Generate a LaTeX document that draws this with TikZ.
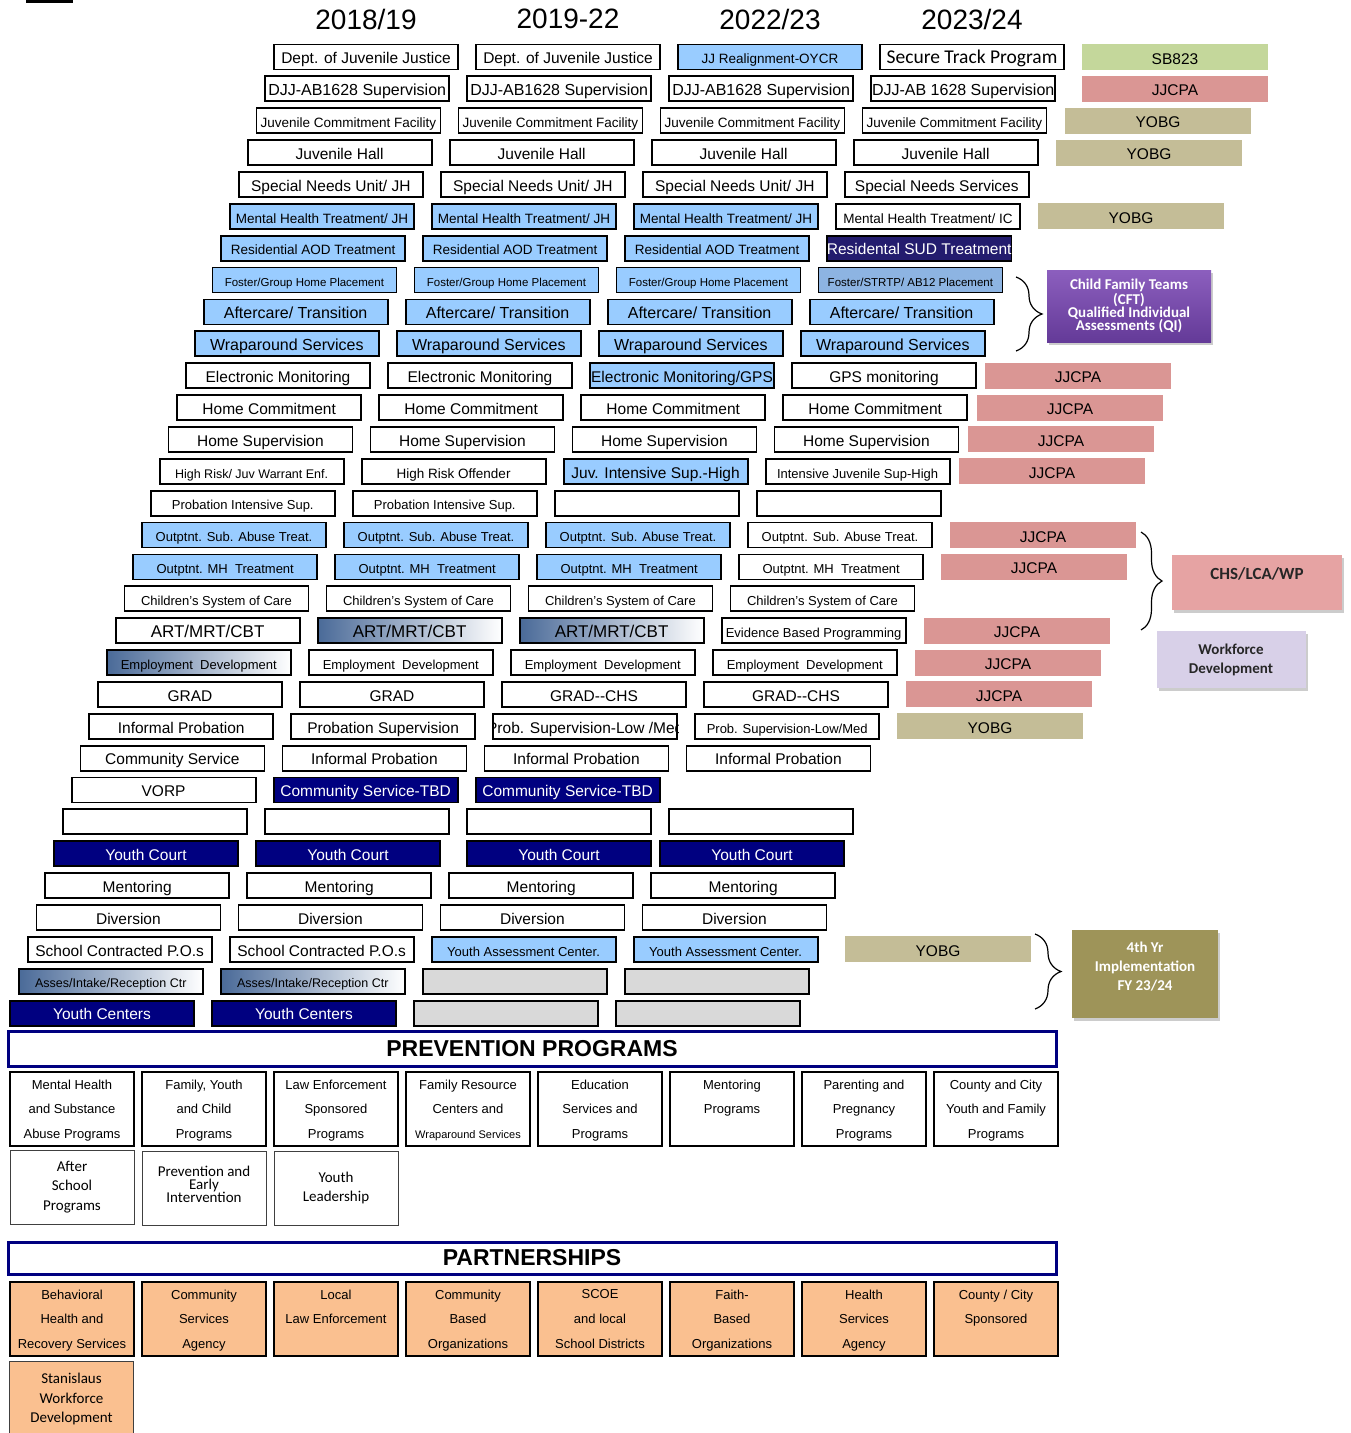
\documentclass[tikz,border=0pt]{standalone}
\usepackage{fontspec}
\setmainfont{Liberation Sans}
\newfontfamily\calibfont{Carlito}
\usetikzlibrary{calc,decorations.pathreplacing,shadows}

\definecolor{cellblue}{HTML}{99CCFF}
\definecolor{strtpblue}{HTML}{8DB4E2}
\definecolor{cellnavy}{HTML}{000080}
\definecolor{sudnavy}{RGB}{35,28,110}
\definecolor{gradblue}{HTML}{4A6A98}
\definecolor{cellgrey}{HTML}{D9D9D9}
\definecolor{sbgreen}{HTML}{C4D79B}
\definecolor{jjpink}{HTML}{DA9694}
\definecolor{yobgtan}{HTML}{C4BD97}
\definecolor{cfttop}{RGB}{140,95,190}
\definecolor{cftbot}{RGB}{100,58,152}
\definecolor{chspink}{HTML}{E6A3A3}
\definecolor{wflilac}{HTML}{D8D0E8}
\definecolor{yrolive}{HTML}{9E9459}
\definecolor{peach}{HTML}{FAC090}
\definecolor{bannernavy}{HTML}{000080}

\newcommand{\fs}[1]{\fontsize{#1}{#1}\selectfont}
\newcommand{\fsl}[2]{\fontsize{#1}{#2}\selectfont}
% one cell of the staircase: row, column, style, text
\newcommand{\stair}[4]{\node[#3] (r#1c#2) at ({366+\colw*(#2-1)-\slant*(#1-1)},{57+\rowh*(#1-1)}) {#4};}
% funding bar at the end of a row
\newcommand{\fundbar}[4]{\node[fundbox,fill=#3] (f#1) at (#2,{57+\rowh*(#1-1)}) {#4};}

\tikzset{
  stairbox/.style={draw=black,line width=1.8pt,fill=white,minimum width=184pt,
    minimum height=25pt,inner sep=0pt,text height=13.5pt,text depth=0pt,font=\fs{15.5}},
  bluebox/.style={stairbox,fill=cellblue},
  navybox/.style={stairbox,fill=cellnavy,text=white},
  gradbox/.style={stairbox,left color=gradblue,right color=white},
  greybox/.style={stairbox,fill=cellgrey},
  fundbox/.style={minimum width=186pt,minimum height=26pt,inner sep=0pt,
    text height=14pt,text depth=0pt,font=\fs{15.5}},
  callout/.style={inner sep=0pt,align=center,font=\calibfont\bfseries\fsl{15}{19},
    drop shadow={opacity=0.4,shadow xshift=2pt,shadow yshift=-3pt}},
  banner/.style={draw=bannernavy,line width=3pt,fill=white,minimum width=1048pt,
    inner sep=0pt,font=\bfseries\fs{23}},
  progbox/.style={draw=black,line width=1.8pt,fill=white,minimum width=124pt,
    minimum height=74pt,inner sep=0pt,align=center,text depth=-4.3pt,font=\fsl{13}{24.7}},
  softbox/.style={draw=black!75,line width=1pt,fill=white,minimum width=124pt,
    minimum height=74pt,inner sep=0pt,align=center,font=\calibfont\fsl{15}{19.2}},
  partbox/.style={progbox,fill=peach},
  yearlabel/.style={font=\fs{28}},
  curly/.style={decorate,decoration={brace,amplitude=#1},line width=1.2pt}
}

\begin{document}
\begin{tikzpicture}[x=1pt,y=-1pt]
  \useasboundingbox (0,0) rectangle (1350,1433);
  \def\rowh{31.87}
  \def\colw{202}
  \def\slant{8.8}
  \fill (26,0) rectangle (73,2.5);

  % years
  \node[yearlabel] (y1) at (366,19) {2018/19};
  \node[yearlabel] (y2) at (568,19) {2019-22};
  \node[yearlabel] (y3) at (770,19) {2022/23};
  \node[yearlabel] (y4) at (972,19) {2023/24};

  % rows 1--10
  \foreach \c in {1,2} {\stair{1}{\c}{stairbox}{Dept. of Juvenile Justice}}
  \stair{1}{3}{bluebox,font=\fs{13.5}}{JJ Realignment-OYCR}
  \stair{1}{4}{stairbox,font=\calibfont\fs{19.5}}{Secure Track Program}
  \fundbar{1}{1175}{sbgreen}{SB823}
  \foreach \c in {1,2,3} {\stair{2}{\c}{stairbox,font=\fs{16}}{DJJ-AB1628 Supervision}}
  \stair{2}{4}{stairbox,font=\fs{16}}{DJJ-AB 1628 Supervision}
  \fundbar{2}{1175}{jjpink}{JJCPA}
  \foreach \c in {1,...,4} {\stair{3}{\c}{stairbox,font=\fs{13.5}}{Juvenile Commitment Facility}}
  \fundbar{3}{1158}{yobgtan}{YOBG}
  \foreach \c in {1,...,4} {\stair{4}{\c}{stairbox}{Juvenile Hall}}
  \fundbar{4}{1149}{yobgtan}{YOBG}
  \foreach \c in {1,2,3} {\stair{5}{\c}{stairbox}{Special Needs Unit/ JH}}
  \stair{5}{4}{stairbox}{Special Needs Services}
  \foreach \c in {1,2,3} {\stair{6}{\c}{bluebox,font=\fs{13.5}}{Mental Health Treatment/ JH}}
  \stair{6}{4}{stairbox,font=\fs{13.5}}{Mental Health Treatment/ IC}
  \fundbar{6}{1131}{yobgtan}{YOBG}
  \foreach \c in {1,2,3} {\stair{7}{\c}{bluebox,font=\fs{13.5}}{Residential AOD Treatment}}
  \stair{7}{4}{stairbox,fill=sudnavy,text=white}{Residental SUD Treatment}
  \foreach \c in {1,2,3} {\stair{8}{\c}{bluebox,font=\fs{11.5}}{Foster/Group Home Placement}}
  \stair{8}{4}{stairbox,fill=strtpblue,font=\fs{11.5}}{Foster/STRTP/ AB12 Placement}
  \foreach \c in {1,...,4} {\stair{9}{\c}{bluebox,font=\fs{16}}{Aftercare/ Transition}}
  \foreach \c in {1,...,4} {\stair{10}{\c}{bluebox,font=\fs{16}}{Wraparound Services}}

  % rows 11--20
  \foreach \c in {1,2} {\stair{11}{\c}{stairbox}{Electronic Monitoring}}
  \stair{11}{3}{bluebox}{Electronic Monitoring/GPS}
  \stair{11}{4}{stairbox}{GPS monitoring}
  \fundbar{11}{1078}{jjpink}{JJCPA}
  \foreach \c in {1,...,4} {\stair{12}{\c}{stairbox}{Home Commitment}}
  \fundbar{12}{1070}{jjpink}{JJCPA}
  \foreach \c in {1,...,4} {\stair{13}{\c}{stairbox}{Home Supervision}}
  \fundbar{13}{1061}{jjpink}{JJCPA}
  \stair{14}{1}{stairbox,font=\fs{12.5}}{High Risk/ Juv Warrant Enf.}
  \stair{14}{2}{stairbox,font=\fs{13.5}}{High Risk Offender}
  \stair{14}{3}{bluebox}{Juv. Intensive Sup.-High}
  \stair{14}{4}{stairbox,font=\fs{13}}{Intensive Juvenile Sup-High}
  \fundbar{14}{1052}{jjpink}{JJCPA}
  \foreach \c in {1,2} {\stair{15}{\c}{stairbox,font=\fs{13}}{Probation Intensive Sup.}}
  \foreach \c in {3,4} {\stair{15}{\c}{stairbox}{}}
  \foreach \c in {1,2,3} {\stair{16}{\c}{bluebox,font=\fs{13}}{Outptnt. Sub. Abuse Treat.}}
  \stair{16}{4}{stairbox,font=\fs{13}}{Outptnt. Sub. Abuse Treat.}
  \fundbar{16}{1043}{jjpink}{JJCPA}
  \foreach \c in {1,2,3} {\stair{17}{\c}{bluebox,font=\fs{13}}{Outptnt. MH\ \ Treatment}}
  \stair{17}{4}{stairbox,font=\fs{13}}{Outptnt. MH\ \ Treatment}
  \fundbar{17}{1034}{jjpink}{JJCPA}
  \foreach \c in {1,...,4} {\stair{18}{\c}{stairbox,font=\fs{13}}{Children's System of Care}}
  \stair{19}{1}{stairbox,font=\fs{17}}{ART/MRT/CBT}
  \foreach \c in {2,3} {\stair{19}{\c}{gradbox,font=\fs{17}}{ART/MRT/CBT}}
  \stair{19}{4}{stairbox,font=\fs{13}}{Evidence Based Programming}
  \fundbar{19}{1017}{jjpink}{JJCPA}
  \stair{20}{1}{gradbox,font=\fs{13}}{Employment\ \ Development}
  \foreach \c in {2,3,4} {\stair{20}{\c}{stairbox,font=\fs{13}}{Employment\ \ Development}}
  \fundbar{20}{1008}{jjpink}{JJCPA}

  % rows 21--31
  \foreach \c in {1,2} {\stair{21}{\c}{stairbox}{GRAD}}
  \foreach \c in {3,4} {\stair{21}{\c}{stairbox}{GRAD-{}-CHS}}
  \fundbar{21}{999}{jjpink}{JJCPA}
  \stair{22}{1}{stairbox}{Informal Probation}
  \stair{22}{2}{stairbox}{Probation Supervision}
  \stair{22}{3}{stairbox}{}
  \begin{scope}
    \clip (r22c3.south west) rectangle (r22c3.north east);
    \node[font=\fs{15.5},inner sep=0pt,text height=13.5pt,text depth=0pt] (t22c3) at (r22c3)
      {Prob. Supervision-Low /Med};
  \end{scope}
  \stair{22}{4}{stairbox,font=\fs{13}}{Prob. Supervision-Low/Med}
  \fundbar{22}{990}{yobgtan}{YOBG}
  \stair{23}{1}{stairbox}{Community Service}
  \foreach \c in {2,3,4} {\stair{23}{\c}{stairbox}{Informal Probation}}
  \stair{24}{1}{stairbox}{VORP}
  \foreach \c in {2,3} {\stair{24}{\c}{navybox}{Community Service-TBD}}
  \foreach \c in {1,...,4} {\stair{25}{\c}{stairbox}{}}
  \foreach \c in {1,2,4} {\stair{26}{\c}{navybox}{Youth Court}}
  \stair{26}{3}{navybox,xshift=9pt}{Youth Court}
  \foreach \c in {1,...,4} {\stair{27}{\c}{stairbox}{Mentoring}}
  \foreach \c in {1,...,4} {\stair{28}{\c}{stairbox}{Diversion}}
  \foreach \c in {1,2} {\stair{29}{\c}{stairbox}{School Contracted P.O.s}}
  \foreach \c in {3,4} {\stair{29}{\c}{bluebox,font=\fs{13}}{Youth Assessment Center.}}
  \fundbar{29}{938}{yobgtan}{YOBG}
  \foreach \c in {1,2} {\stair{30}{\c}{gradbox,font=\fs{12.5}}{Asses/Intake/Reception Ctr}}
  \foreach \c in {3,4} {\stair{30}{\c}{greybox}{}}
  \foreach \c in {1,2} {\stair{31}{\c}{navybox}{Youth Centers}}
  \foreach \c in {3,4} {\stair{31}{\c}{greybox}{}}

  % braces and call-outs
  \coordinate (b1t) at (1016,277);
  \coordinate (b1b) at (1016,351);
  \draw[curly=26pt] (b1t) -- (b1b);
  \node[callout,top color=cfttop,bottom color=cftbot,text=white,minimum width=164pt,
    minimum height=72pt,font=\calibfont\bfseries\fsl{15}{13.3}] (cft) at (1129,306)
    {Child Family Teams\\(CFT)\\Qualified Individual\\Assessments (QI)};
  \coordinate (b2t) at (1141,532);
  \coordinate (b2b) at (1141,630);
  \draw[curly=21pt] (b2t) -- (b2b);
  \node[callout,fill=chspink,text=black!85,minimum width=170pt,minimum height=55pt,
    font=\calibfont\bfseries\fsl{17}{17}] (chs) at (1257,582) {CHS/LCA/WP\\ \mbox{}};
  \node[callout,fill=wflilac,text=black!85,minimum width=149pt,minimum height=57pt] (wfd)
    at (1231,659.5) {Workforce\\Development};
  \coordinate (b3t) at (1035,934);
  \coordinate (b3b) at (1035,1009);
  \draw[curly=26pt] (b3t) -- (b3b);
  \node[callout,fill=yrolive,text=white,minimum width=146pt,minimum height=88pt,
    text depth=15pt] (yr4) at (1145,974) {4th Yr\\Implementation\\FY 23/24};

  % prevention programs
  \node[banner,minimum height=35pt] (prev) at (532,1048.5) {PREVENTION PROGRAMS};
  \node[progbox] (p1) at (72,1109) {Mental Health\\and Substance\\Abuse Programs};
  \node[progbox] (p2) at (204,1109) {Family, Youth\\and Child\\Programs};
  \node[progbox] (p3) at (336,1109) {Law Enforcement\\Sponsored\\Programs};
  \node[progbox] (p4) at (468,1109) {Family Resource\\Centers and\\{\fs{11}Wraparound Services}};
  \node[progbox] (p5) at (600,1109) {Education\\Services and\\Programs};
  \node[progbox] (p6) at (732,1109) {Mentoring\\Programs\\ \mbox{}};
  \node[progbox] (p7) at (864,1109) {Parenting and\\Pregnancy\\Programs};
  \node[progbox] (p8) at (996,1109) {County and City\\Youth and Family\\Programs};
  \node[softbox] (p9) at (72,1187) {After\\School\\Programs};
  \node[softbox,font=\calibfont\fsl{15}{13},text depth=8pt] (p10) at (204,1188)
    {Prevention and\\Early\\Intervention};
  \node[softbox] (p11) at (336,1188) {Youth\\Leadership};

  % partnerships
  \node[banner,minimum height=32pt] (part) at (532,1258) {PARTNERSHIPS};
  \node[partbox] (q1) at (72,1319) {Behavioral\\Health and\\Recovery Services};
  \node[partbox] (q2) at (204,1319) {Community\\Services\\Agency};
  \node[partbox] (q3) at (336,1319) {Local\\Law Enforcement\\ \mbox{}};
  \node[partbox] (q4) at (468,1319) {Community\\Based\\Organizations};
  \node[partbox] (q5) at (600,1319) {SCOE\\and local\\School Districts};
  \node[partbox] (q6) at (732,1319) {Faith-\\Based\\Organizations};
  \node[partbox] (q7) at (864,1319) {Health\\Services\\Agency};
  \node[partbox] (q8) at (996,1319) {County / City\\Sponsored\\ \mbox{}};
  \node[softbox,fill=peach,minimum height=76pt] (q9) at (71.5,1399) {Stanislaus\\Workforce\\Development};
\end{tikzpicture}
\end{document}
